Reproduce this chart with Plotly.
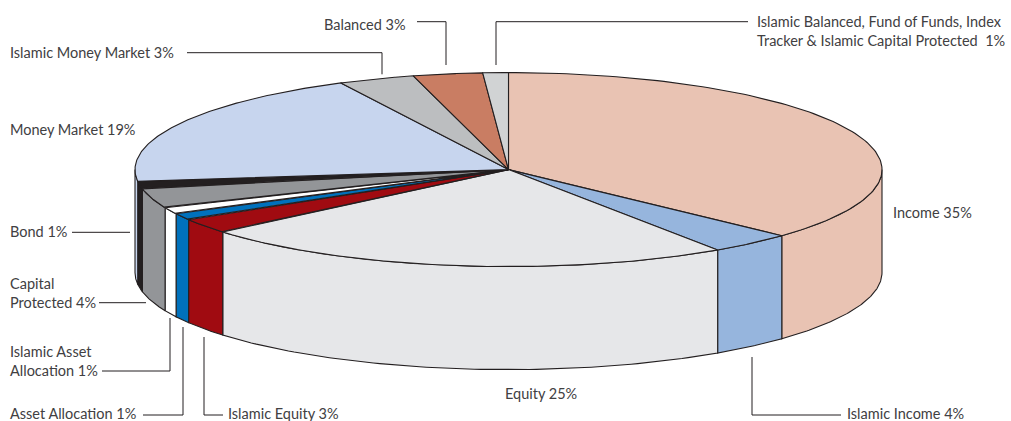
import numpy as np
import plotly.graph_objects as go

# ---- data (clockwise from 12 o'clock) ----
categories = ["Income", "Islamic Income", "Equity", "Islamic Equity", "Asset Allocation",
              "Islamic Asset Allocation", "Capital Protected", "Bond", "Money Market",
              "Islamic Money Market", "Balanced", "Islamic Balanced etc."]
slice_shares = [36.9, 3.6, 23.3, 2.5, 1.1, 1.1, 3.25, 1.25, 19.5, 3.3, 3.0, 1.1]
label_texts = ["Income 35%", "Islamic Income 4%", "Equity 25%", "Islamic Equity 3%", "Asset Allocation 1%",
               "Islamic Asset<br>Allocation 1%", "Capital<br>Protected 4%", "Bond 1%", "Money Market 19%",
               "Islamic Money Market 3%", "Balanced 3%",
               "Islamic Balanced, Fund of Funds, Index<br>Tracker &amp; Islamic Capital Protected  1%"]

# ---- styles and layout ----
colors = ["#E9C3B3", "#96B5DD", "#E6E7E9", "#A00B11", "#0071BC", "#FFFFFF",
          "#939598", "#231F20", "#C7D5EE", "#BCBEC0", "#C97D63", "#D1D3D4"]
label_pos = [(891.5, 212), (845.5, 413.3), (503.5, 393), (226.5, 413.3), (8.5, 413.3), (8.5, 361), (8.5, 292.5),
             (8.5, 231), (8.5, 129), (8.5, 52), (322.5, 24), (755.5, 30.5)]
leaders = [
    ([752, 752, 841], [357, 415, 415]),
    ([204, 204, 223], [337, 415, 415]),
    ([183, 183, 143], [327, 415, 415]),
    ([170, 170, 102], [318, 371, 371]),
    ([146, 99], [302.7, 302.7]),
    ([130, 72], [232.3, 232.3]),
    ([382, 382, 187], [74.3, 52.7, 52.7]),
    ([446, 446, 417], [65, 21.7, 21.7]),
    ([496, 496, 748], [65, 21.7, 21.7]),
]
CX, CY, RX, RY, DEPTH = 508.5, 169.6, 373.5, 97.0, 103.0
EDGE = "#231F20"


def pt(deg, dy=0.0):
    a = np.radians(deg)
    return CX + RX * np.sin(a), CY - RY * np.cos(a) + dy


fig = go.Figure()


def poly(xs, ys, fill):
    fig.add_trace(go.Scatter(x=list(xs), y=list(ys), mode="lines", fill="toself", fillcolor=fill,
                             line=dict(color=EDGE, width=1.1), hoverinfo="skip", showlegend=False))


edges = np.concatenate([[0], np.cumsum(slice_shares)]) / sum(slice_shares) * 360

# side walls (front half only)
for i, c in enumerate(colors):
    a0, a1 = max(edges[i], 90), min(edges[i + 1], 270)
    if a1 <= a0:
        continue
    t = np.linspace(a0, a1, 80)
    x, y = pt(t)
    xb, yb = pt(t[::-1], DEPTH)
    poly(np.r_[x, xb, x[0]], np.r_[y, yb, y[0]], c)

# top face
for i, c in enumerate(colors):
    t = np.linspace(edges[i], edges[i + 1], 120)
    x, y = pt(t)
    poly(np.r_[CX, x, CX], np.r_[CY, y, CY], c)

for lx, ly in leaders:
    fig.add_trace(go.Scatter(x=lx, y=ly, mode="lines", line=dict(color=EDGE, width=1),
                             hoverinfo="skip", showlegend=False))

for txt, (lx, ly) in zip(label_texts, label_pos):
    fig.add_annotation(x=lx, y=ly, text=txt, showarrow=False, xanchor="left", yanchor="middle",
                       align="left", font=dict(family="Lato", size=14.5, color="#414042"),
                       xref="x", yref="y", borderpad=0)

fig.update_layout(width=1011, height=421, margin=dict(l=0, r=0, t=0, b=0),
                  paper_bgcolor="white", plot_bgcolor="white",
                  xaxis=dict(range=[0, 1011], visible=False, fixedrange=True),
                  yaxis=dict(range=[421, 0], visible=False, fixedrange=True))
fig.write_html("out.html", config=dict(displayModeBar=False),
               post_script="document.body.style.margin='0';document.documentElement.style.overflow='hidden';")
